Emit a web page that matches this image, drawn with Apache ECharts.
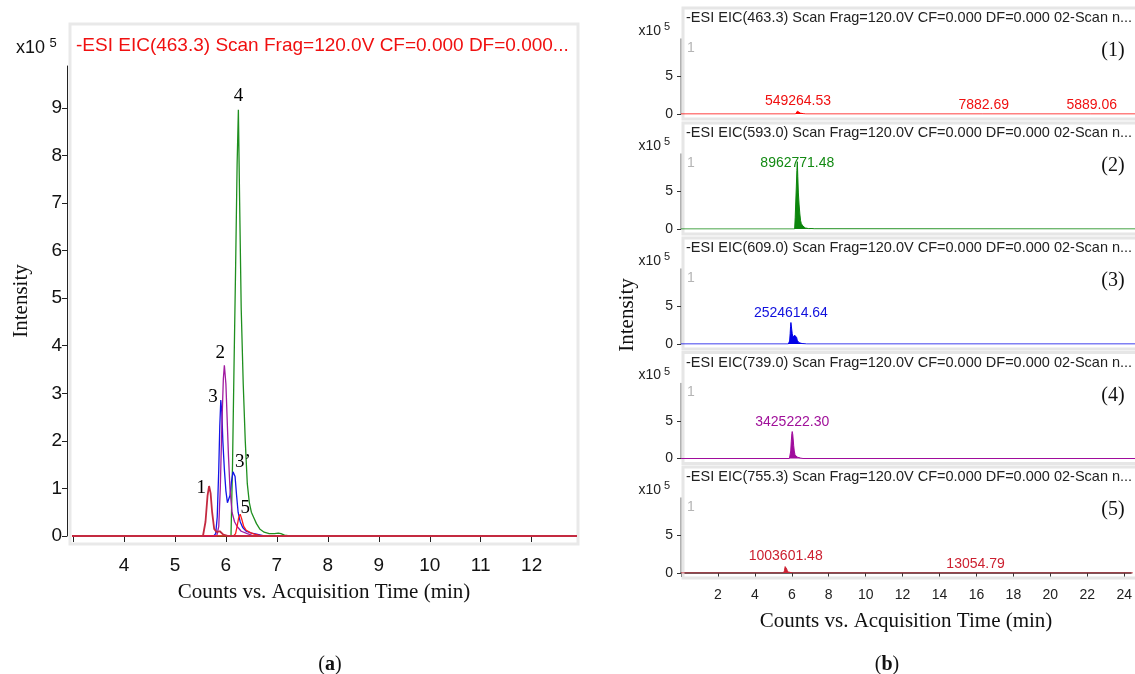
<!DOCTYPE html>
<html>
<head>
<meta charset="utf-8">
<script src="https://cdn.jsdelivr.net/npm/echarts@6/dist/echarts.min.js"></script>
<style>
  html, body { margin: 0; padding: 0; background: #fff; }
  #chart { width: 1135px; height: 674px; }
</style>
</head>
<body>
<div id="chart"></div>
<script>
// EIC traces, intensity in x10^5 counts, time in min
const t463 = [0, 6.15, 6.19, 6.22, 6.25, 6.28, 6.31, 6.35, 6.4, 6.48, 6.56, 6.7, 16.2, 16.25, 16.3, 22.0, 22.05, 22.1, 24.5]
const i463 = [0, 0, 0.05, 0.2, 0.38, 0.46, 0.36, 0.2, 0.12, 0.07, 0.04, 0, 0, 0.03, 0, 0, 0.03, 0, 0]

const t593 = [0, 6.1, 6.13, 6.16, 6.19, 6.22, 6.245, 6.27, 6.3, 6.34, 6.38, 6.42, 6.46, 6.5, 6.55, 6.6, 6.67, 6.75, 6.85, 6.95, 7.03, 7.08, 7.15, 7.25, 24.5]
const i593 = [0, 0, 1.5, 3.6, 5.6, 7.8, 8.96, 7.0, 4.8, 3.2, 2.0, 1.1, 0.7, 0.5, 0.38, 0.26, 0.14, 0.08, 0.05, 0.05, 0.06, 0.05, 0.02, 0, 0]

const t609 = [0, 5.76, 5.8, 5.83, 5.86, 5.88, 5.9, 5.92, 5.94, 5.97, 6.0, 6.03, 6.05, 6.08, 6.11, 6.14, 6.16, 6.18, 6.21, 6.24, 6.28, 6.33, 6.4, 6.5, 6.6, 6.75, 24.5]
const i609 = [0, 0, 0.05, 0.4, 1.4, 2.3, 2.86, 2.6, 2.0, 1.4, 0.95, 0.7, 0.66, 0.85, 1.15, 1.35, 1.39, 1.25, 0.85, 0.5, 0.3, 0.18, 0.1, 0.06, 0.04, 0, 0]

const t739 = [0, 5.82, 5.86, 5.89, 5.92, 5.95, 5.97, 6.0, 6.02, 6.05, 6.08, 6.12, 6.17, 6.22, 6.3, 6.42, 6.55, 24.5]
const i739 = [0, 0, 0.2, 1.0, 2.3, 3.3, 3.59, 3.2, 2.6, 1.7, 1.0, 0.5, 0.3, 0.2, 0.1, 0.05, 0, 0]

const t755 = [0, 5.55, 5.6, 5.64, 5.67, 5.7, 5.73, 5.77, 5.82, 5.88, 5.95, 6.05, 15.9, 15.95, 16.0, 24.5]
const i755 = [0, 0, 0.3, 0.85, 1.05, 0.9, 0.5, 0.15, 0.08, 0.1, 0.03, 0, 0, 0.03, 0, 0]

// peak labels
const names463 = [[6.28, '5']]
const names593 = [[6.245, '4']]
const names609 = [[5.9, '3'], [6.16, '3’']]
const names739 = [[5.97, '2']]
const names755 = [[5.67, '1']]

const areas463 = [[6.28, '549264.53'], [16.25, '7882.69'], [22.05, '5889.06']]
const areas593 = [[6.245, '8962771.48']]
const areas609 = [[5.9, '2524614.64']]
const areas739 = [[5.97, '3425222.30']]
const areas755 = [[5.67, '1003601.48'], [15.95, '13054.79']]

const headers = [
  '-ESI EIC(463.3) Scan Frag=120.0V CF=0.000 DF=0.000 02-Scan n...',
  '-ESI EIC(593.0) Scan Frag=120.0V CF=0.000 DF=0.000 02-Scan n...',
  '-ESI EIC(609.0) Scan Frag=120.0V CF=0.000 DF=0.000 02-Scan n...',
  '-ESI EIC(739.0) Scan Frag=120.0V CF=0.000 DF=0.000 02-Scan n...',
  '-ESI EIC(755.3) Scan Frag=120.0V CF=0.000 DF=0.000 02-Scan n...'
]
const leftTitle = '-ESI EIC(463.3) Scan Frag=120.0V CF=0.000 DF=0.000...'
const panelTags = ['(1)', '(2)', '(3)', '(4)', '(5)']

const SANS = '"Liberation Sans", Arial, sans-serif'
const SERIF = '"Liberation Serif", "Times New Roman", serif'

const traces = [
  { t: t463, v: i463, names: names463, areas: areas463, left: '#ff1a1a', right: '#ff0000', text: '#f01010' },
  { t: t593, v: i593, names: names593, areas: areas593, left: '#1f8f1f', right: '#0c860c', text: '#138a13' },
  { t: t609, v: i609, names: names609, areas: areas609, left: '#1414e8', right: '#0000e6', text: '#1010dd' },
  { t: t739, v: i739, names: names739, areas: areas739, left: '#a01aa0', right: '#a00c9c', text: '#a0109a' },
  { t: t755, v: i755, names: names755, areas: areas755, left: '#c42a40', right: '#cc2233', text: '#cc2030' }
]

// label placement per peak name (style only)
const nameStyle = {
  '1': { position: 'left', distance: 3, offset: [0, 2] },
  '2': { position: 'top', distance: 3, offset: [-4, 0] },
  '3': { position: 'left', distance: 3, offset: [0, -3] },
  '3’': { position: 'right', distance: 1, offset: [0, -8] },
  '4': { position: 'top', distance: 4 },
  '5': { position: 'top', distance: 0, offset: [5, 3] }
}

const zip = (t, v) => t.map((x, k) => [x, v[k]])
const at = (tr, time) => tr.v[tr.t.indexOf(time)]

// right panel geometry
const rowZero = [114, 229, 344, 458.5, 573]
const rowH = 75

const grids = [{ left: 73, top: 66, width: 502, height: 470 }]
const xAxes = [{
  gridIndex: 0, type: 'value', min: 3, max: 12.85, interval: 1, offset: 11,
  axisLine: { lineStyle: { color: '#222', width: 1 } },
  axisTick: { length: 6, lineStyle: { color: '#222' } },
  splitLine: { show: false },
  axisLabel: { fontFamily: SANS, fontSize: 19, color: '#111', margin: 9, showMaxLabel: false, formatter: v => v === 3 ? '' : v },
  name: 'Counts vs. Acquisition Time (min)', nameLocation: 'middle', nameGap: 35,
  nameTextStyle: { fontFamily: SERIF, fontSize: 21, color: '#111' }
}]
const yAxes = [{
  gridIndex: 0, type: 'value', min: 0, max: 9.88, interval: 1, offset: 6,
  axisLine: { show: true, lineStyle: { color: '#222', width: 1 } },
  axisTick: { show: true, length: 5, lineStyle: { color: '#222' } },
  splitLine: { show: false },
  axisLabel: { fontFamily: SANS, fontSize: 19, color: '#111', margin: 5, showMaxLabel: false },
  name: 'Intensity', nameLocation: 'middle', nameGap: 35,
  nameTextStyle: { fontFamily: SERIF, fontSize: 21, color: '#111' }
}]

rowZero.forEach((z, r) => {
  const last = r === rowZero.length - 1
  grids.push({ left: 681, top: z - rowH, width: 454, height: rowH })
  xAxes.push({
    gridIndex: r + 1, type: 'value', min: 0, max: 24.37, interval: 2, offset: last ? 9 : 0,
    show: last,
    axisLine: { lineStyle: { color: '#333', width: 1.5 } },
    axisTick: { length: 4, lineStyle: { color: '#333' } },
    splitLine: { show: false },
    axisLabel: { fontFamily: SANS, fontSize: 14, color: '#222', margin: 6, showMaxLabel: false, formatter: v => v === 0 ? '' : v },
    name: 'Counts vs. Acquisition Time (min)', nameLocation: 'middle', nameGap: 29,
    nameTextStyle: { fontFamily: SERIF, fontSize: 21, color: '#111' }
  })
  yAxes.push({
    gridIndex: r + 1, type: 'value', min: 0, max: 9.99, interval: 5, offset: 2,
    axisLine: { show: true, lineStyle: { color: '#999', width: 1.5 } },
    axisTick: { show: true, length: 4, lineStyle: { color: '#333' } },
    splitLine: { show: false },
    axisLabel: { fontFamily: SANS, fontSize: 14, color: '#222', margin: 6, showMaxLabel: false }
  })
})

const series = []
// left overlay, crimson drawn last so it sits on the baseline
;[1, 2, 3, 0, 4].forEach(k => {
  const tr = traces[k]
  series.push({
    type: 'line', xAxisIndex: 0, yAxisIndex: 0, data: zip(tr.t, tr.v),
    showSymbol: false, lineStyle: { color: tr.left, width: k === 4 ? 1.8 : 1.3 }, clip: true, z: 2
  })
  series.push({
    type: 'scatter', xAxisIndex: 0, yAxisIndex: 0, symbolSize: 0, z: 5,
    itemStyle: { opacity: 1 },
    data: tr.names.map(([time, name]) => ({
      value: [time, at(tr, time)],
      label: Object.assign({ show: true, formatter: name, fontFamily: SERIF, fontSize: 19, color: '#000', opacity: 1 }, nameStyle[name])
    }))
  })
})
// right stacked panels
traces.forEach((tr, r) => {
  series.push({
    type: 'line', xAxisIndex: r + 1, yAxisIndex: r + 1, data: zip(tr.t, tr.v),
    showSymbol: false, lineStyle: { color: tr.right, width: 1 },
    areaStyle: { color: tr.right, opacity: 1 }, z: 2
  })
  series.push({
    type: 'scatter', xAxisIndex: r + 1, yAxisIndex: r + 1, symbolSize: 0, z: 5,
    itemStyle: { opacity: 1 },
    data: tr.areas.map(([time, txt]) => ({
      value: [time, at(tr, time)],
      label: {
        show: true, formatter: txt, position: 'top', distance: 2,
        offset: r === 1 ? [0, 10] : [0, 0], opacity: 1,
        fontFamily: SANS, fontSize: 14, color: tr.text
      }
    }))
  })
})

const graphic = [
  { type: 'rect', shape: { x: 70, y: 24, width: 508, height: 520 }, style: { fill: 'none', stroke: '#e9e9e9', lineWidth: 3 }, z: 1 },
  { type: 'text', style: { text: leftTitle, x: 76, y: 46, font: '19px ' + SANS, fill: '#f01010', textAlign: 'left', textVerticalAlign: 'middle' } },
  { type: 'text', style: { text: 'x10', x: 45, y: 48, font: '18px ' + SANS, fill: '#111', textAlign: 'right', textVerticalAlign: 'middle' } },
  { type: 'text', style: { text: '5', x: 53, y: 43, font: '13px ' + SANS, fill: '#111', textAlign: 'center', textVerticalAlign: 'middle' } },
  { type: 'text', rotation: Math.PI / 2, x: 627, y: 315, style: { text: 'Intensity', x: 0, y: 0, font: '21px ' + SERIF, fill: '#111', textAlign: 'center', textVerticalAlign: 'middle' } }
]
rowZero.forEach((z, r) => {
  graphic.push(
    { type: 'rect', shape: { x: 683, y: z - 106, width: 460, height: 111 }, style: { fill: 'none', stroke: '#e6e6e6', lineWidth: 3 }, z: 1 },
    { type: 'text', style: { text: headers[r], x: 686, y: z - 96, font: '14.5px ' + SANS, fill: '#222', textAlign: 'left', textVerticalAlign: 'middle' } },
    { type: 'text', style: { text: 'x10', x: 661, y: z - 83, font: '14px ' + SANS, fill: '#222', textAlign: 'right', textVerticalAlign: 'middle' } },
    { type: 'text', style: { text: '5', x: 667, y: z - 87, font: '11px ' + SANS, fill: '#222', textAlign: 'center', textVerticalAlign: 'middle' } },
    { type: 'text', style: { text: '1', x: 687, y: z - 66, font: '14px ' + SANS, fill: '#b4b4b4', textAlign: 'left', textVerticalAlign: 'middle' } },
    { type: 'text', style: { text: panelTags[r], x: 1113, y: z - 63, font: '20px ' + SERIF, fill: '#111', textAlign: 'center', textVerticalAlign: 'middle' } }
  )
})

const chart = echarts.init(document.getElementById('chart'))
chart.setOption({
  animation: false,
  backgroundColor: '#fff',
  title: [
    { text: '({b|a})', left: 325, top: 650, textAlign: 'center',
      textStyle: { fontFamily: SERIF, fontSize: 20, fontWeight: 'normal', color: '#111', rich: { b: { fontFamily: SERIF, fontSize: 20, fontWeight: 'bold', color: '#111' } } } },
    { text: '({b|b})', left: 882, top: 650, textAlign: 'center',
      textStyle: { fontFamily: SERIF, fontSize: 20, fontWeight: 'normal', color: '#111', rich: { b: { fontFamily: SERIF, fontSize: 20, fontWeight: 'bold', color: '#111' } } } }
  ],
  grid: grids,
  xAxis: xAxes,
  yAxis: yAxes,
  series: series,
  graphic: graphic
})
</script>
</body>
</html>
